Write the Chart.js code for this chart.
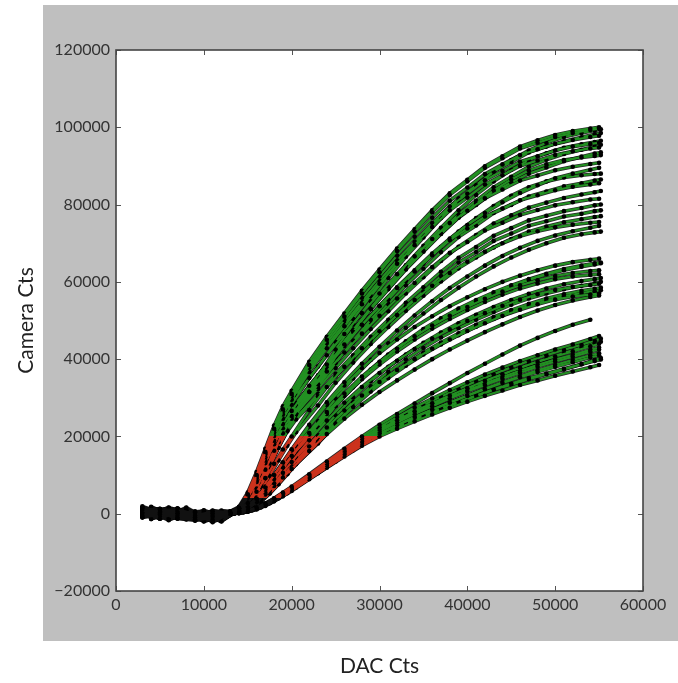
<!DOCTYPE html>
<html>
<head>
<meta charset="utf-8">
<script src="https://cdn.jsdelivr.net/npm/chart.js@4.4.1/dist/chart.umd.min.js"></script>
<style>
  html, body { margin: 0; padding: 0; background: #fff; }
  #wrap { width: 678px; height: 683px; position: relative; }
</style>
</head>
<body>
<div id="wrap"><canvas id="chart"></canvas></div>
<script>
/* Camera response vs DAC sweep, one trace per pixel/channel.
 * Colour along each trace: black in the noise floor, red up to 20000 cts
 * (the region used for the linear fit), green above that. */

// two DAC sweeps (the second one is offset, so markers don't line up)
const dacGridA = [3000, 5000, 7000, 9000, 11000, 13000, 14000, 15000, 16000, 17000, 18000, 19000, 20000,
  22000, 24000, 26000, 28000, 30000, 32000, 34000, 36000, 38000, 40000, 42000, 44000, 46000, 48000,
  50000, 52000, 54000, 55000];
const dacGridB = [4000, 6000, 8000, 10000, 12000, 13500, 14500, 15500, 16500, 17500, 18500, 19500, 20500,
  23000, 25000, 27000, 29000, 31000, 33000, 35000, 37000, 39000, 41000, 43000, 45000, 47000, 49000,
  51000, 53000, 54500, 55200];

// ---- upper family (ends 73k..100k) ----
const camA01 = [1400, 300, -500, -900, -600, 500, 1500, 5000, 10000, 16000, 22000, 27000, 31000, 38500, 45000, 51000, 57000, 62500, 68000, 73000, 78000, 82500, 86000, 89500, 92000, 94500, 96000, 97500, 98500, 99300, 99600];
const camA02 = [600, -900, 900, -1700, 200, 300, 1000, 3500, 7500, 13000, 18500, 23500, 28000, 35500, 42500, 49000, 55000, 61000, 66500, 71500, 76500, 81000, 85000, 88500, 91500, 94000, 96000, 97500, 98500, 99200, 99500];
const camA03 = [-500, 1100, 100, -600, -1600, 500, 1500, 4900, 9800, 15700, 21600, 26500, 30400, 37800, 44200, 50100, 55900, 61400, 66800, 71700, 76600, 81000, 84400, 87900, 90400, 92800, 94300, 95700, 96700, 97500, 97800];
const camA04 = [1800, -300, -1100, 400, -900, 200, 800, 3000, 7000, 12000, 17000, 21500, 25800, 33500, 40500, 47000, 53000, 58800, 64300, 69300, 74000, 78500, 82500, 86000, 89000, 91500, 93300, 94700, 95600, 96200, 96500];
const camA05 = [-900, 600, 1300, -1500, 100, 500, 1400, 4700, 9500, 15300, 21000, 25700, 29500, 36700, 42800, 48500, 54200, 59500, 64700, 69500, 74200, 78500, 81800, 85200, 87600, 90000, 91400, 92800, 93800, 94500, 94800];
const camA06 = [300, 1500, -600, -400, -2000, 300, 1100, 3800, 8200, 13500, 19000, 23800, 27800, 35000, 41500, 47500, 53000, 58300, 63300, 68000, 72500, 76700, 80300, 83700, 86500, 88800, 90400, 91500, 92200, 92600, 92800];
const camA07 = [1100, -1300, 400, -1200, 600, 500, 1400, 4500, 9100, 14600, 20100, 24600, 28200, 35100, 41000, 46500, 51900, 57000, 62000, 66600, 71100, 75200, 78400, 81600, 83900, 86200, 87500, 88900, 89800, 90500, 90800];
const camA08 = [-1400, 100, 800, -1900, -300, 200, 900, 3200, 7200, 12200, 17300, 21900, 25800, 32800, 39000, 44800, 50200, 55400, 60200, 64700, 69000, 73000, 76500, 79600, 82300, 84500, 86000, 87000, 87600, 87900, 88000];
const camA09 = [800, 900, -1000, 300, -1300, 400, 1300, 4300, 8600, 13800, 18900, 23200, 26600, 33100, 38600, 43800, 48900, 53700, 58400, 62700, 66900, 70800, 73800, 76900, 79000, 81100, 82400, 83700, 84600, 85200, 85500];
const camA10 = [-300, -500, 1600, -900, -1800, 400, 1300, 4200, 8400, 13400, 18500, 22600, 26000, 32300, 37700, 42800, 47800, 52400, 57000, 61200, 65400, 69100, 72100, 75100, 77200, 79200, 80500, 81700, 82600, 83200, 83500];
const camA11 = [1600, 300, -200, -1600, 400, 400, 1200, 4100, 8200, 13100, 18000, 22100, 25300, 31500, 36800, 41700, 46600, 51200, 55700, 59700, 63800, 67500, 70300, 73300, 75300, 77300, 78600, 79800, 80600, 81300, 81500];
const camA12 = [100, -1100, 600, -300, -1200, 400, 1200, 3900, 7900, 12600, 17300, 21300, 24400, 30400, 35500, 40200, 44900, 49300, 53600, 57500, 61500, 65000, 67700, 70600, 72500, 74500, 75700, 76900, 77600, 78300, 78500];
const camA13 = [900, 1300, -900, -1300, -200, 300, 900, 2800, 5700, 9200, 12900, 16600, 20000, 26800, 32800, 38000, 42800, 47200, 51400, 55300, 59000, 62300, 65200, 67800, 70000, 71800, 73100, 74100, 74800, 75300, 75500];
const camA14 = [-1200, -200, 300, 700, -1700, 200, 700, 2200, 4600, 7600, 10900, 14200, 17500, 24000, 29800, 35000, 39800, 44100, 48100, 51800, 55300, 58500, 61400, 64000, 66300, 68300, 70000, 71400, 72300, 72800, 73000];
const camA15 = [-700, 1300, 300, -1800, 800, 500, 1500, 4900, 9900, 15900, 21800, 26700, 30600, 38100, 44500, 50400, 56300, 61900, 67300, 72200, 77100, 81600, 85000, 88600, 91000, 93500, 95000, 96400, 97400, 98200, 98500];
const camA16 = [1500, -600, -1500, 600, -1100, 300, 1100, 3700, 8000, 13500, 19000, 23800, 27800, 35200, 41700, 47600, 53300, 58700, 63900, 68700, 73200, 77500, 81000, 84500, 87200, 89800, 91600, 93100, 94200, 95000, 95500];
const camA17 = [-1300, 400, 1200, -700, -1900, 400, 1300, 4300, 8700, 13900, 19100, 23400, 26900, 33500, 39100, 44300, 49500, 54300, 59100, 63400, 67700, 71600, 74600, 77800, 79900, 82100, 83400, 84700, 85500, 86200, 86500];
const camA18 = [400, -1700, 700, -1300, 100, 300, 900, 2900, 6000, 9800, 13800, 17600, 21100, 28000, 33900, 39100, 43900, 48300, 52500, 56400, 60100, 63500, 66300, 68900, 71100, 73000, 74300, 75400, 76200, 76800, 77000];
const camA19 = [200, -800, 500, -1100, -900, 600, 1800, 5500, 10800, 16800, 22800, 27800, 31800, 39300, 45800, 51800, 57700, 63200, 68600, 73600, 78500, 82900, 86400, 89900, 92500, 95000, 96600, 98000, 99000, 99700, 100000];
const camA20 = [-400, 700, -300, -1400, 500, 400, 1300, 4600, 9200, 14800, 20400, 25000, 28700, 35800, 41800, 47400, 52900, 58100, 63200, 67800, 72400, 76600, 79900, 83200, 85700, 88000, 89600, 91200, 92400, 93200, 93500];
const camA21 = [1200, -200, -900, 200, -1500, 200, 800, 2800, 6500, 11400, 16300, 20800, 24600, 31600, 37700, 43400, 48800, 53800, 58600, 63000, 67300, 71200, 74700, 77800, 80600, 83000, 85000, 86800, 88000, 89000, 89500];
const camA22 = [-1000, 500, 900, -600, -1000, 400, 1200, 4000, 8000, 12900, 17700, 21700, 24900, 31000, 36200, 41000, 45800, 50200, 54600, 58600, 62600, 66200, 69000, 71900, 73900, 75900, 77100, 78300, 79100, 79800, 80000];
const camA23 = [700, 100, -1200, -200, 300, 200, 600, 1800, 3900, 6800, 10000, 13300, 16700, 23000, 28800, 34000, 38800, 43200, 47400, 51300, 55000, 58400, 61400, 64200, 66700, 68800, 70600, 72000, 73100, 74000, 74500];
const camA24 = [-200, 1200, -700, -500, -1200, 500, 1400, 4800, 9600, 15500, 21200, 26000, 29900, 37200, 43400, 49200, 54900, 60300, 65600, 70400, 75200, 79500, 82800, 86300, 88700, 91100, 92500, 94000, 95000, 95700, 96000];

// ---- middle family (ends 56k..66k) ----
const camM01 = [500, -600, 1200, -1800, -700, 300, 700, 2000, 4200, 7000, 10000, 13200, 16400, 22600, 28200, 33200, 37700, 41600, 45100, 48300, 51100, 53700, 56000, 58100, 60000, 61600, 63000, 64200, 65100, 65700, 66000];
const camM02 = [1500, 700, -400, -200, -1500, 300, 700, 2000, 4100, 6900, 9900, 13000, 16200, 22300, 27800, 32700, 37100, 41000, 44400, 47500, 50300, 52800, 55000, 57000, 58900, 60500, 61900, 63000, 63900, 64500, 64800];
const camM03 = [-700, 200, -1300, -900, 800, 200, 600, 1800, 3700, 6200, 9000, 12000, 15000, 20900, 26300, 31100, 35500, 39300, 42700, 45900, 48700, 51200, 53500, 55600, 57500, 59100, 60400, 61500, 62300, 62800, 63000];
const camM04 = [1200, -900, 300, -2000, -600, 200, 600, 1700, 3600, 6000, 8700, 11600, 14500, 20300, 25500, 30100, 34300, 38000, 41200, 44200, 46900, 49300, 51500, 53500, 55300, 56900, 58300, 59400, 60200, 60700, 61000];
const camM05 = [-200, 1200, 900, 100, -1900, 200, 500, 1500, 3200, 5400, 7900, 10600, 13400, 19000, 24100, 28700, 32800, 36400, 39600, 42600, 45300, 47700, 49900, 51900, 53800, 55400, 56800, 57900, 58700, 59200, 59500];
const camM06 = [600, -1500, -300, -1100, 0, 200, 500, 1400, 3100, 5200, 7600, 10200, 12800, 18200, 23200, 27600, 31600, 35100, 38300, 41200, 43800, 46200, 48400, 50400, 52200, 53800, 55200, 56300, 57100, 57600, 57800];
const camM07 = [1900, 400, 0, -700, -1000, 200, 500, 1300, 3000, 5000, 7200, 9400, 11600, 16200, 20600, 24600, 28200, 31500, 34500, 37300, 40000, 42500, 44800, 47000, 49000, 50900, 52600, 54000, 55200, 56100, 56500];
const camM08 = [-300, 900, -1000, 400, -1700, 300, 700, 2000, 4200, 7000, 10000, 13100, 16300, 22400, 27900, 32900, 37300, 41200, 44600, 47800, 50600, 53100, 55300, 57300, 59100, 60700, 62100, 63300, 64200, 64800, 65000];
const camM09 = [1100, -400, 200, -1900, -800, 200, 500, 1400, 3200, 5300, 7700, 10300, 13000, 18500, 23500, 28000, 32000, 35600, 38800, 41700, 44300, 46700, 48900, 50900, 52700, 54300, 55700, 56800, 57700, 58200, 58500];
const camM10 = [300, -1300, 600, -800, -300, 200, 600, 1700, 3600, 6100, 8800, 11700, 14700, 20500, 25800, 30500, 34800, 38600, 42000, 45100, 47900, 50400, 52700, 54800, 56700, 58300, 59600, 60700, 61400, 61800, 62000];
const camM11 = [-800, 300, -500, 200, -1600, 200, 500, 1500, 3300, 5500, 8000, 10800, 13600, 19100, 24300, 28900, 33000, 36700, 39900, 42900, 45600, 48000, 50200, 52200, 54100, 55700, 57000, 58100, 59000, 59600, 60000];
const camM12 = [900, -700, 1000, -1200, -200, 200, 500, 1300, 3000, 5100, 7400, 9800, 12300, 17400, 22300, 26700, 30600, 34100, 37200, 40000, 42700, 45100, 47300, 49300, 51200, 52800, 54200, 55400, 56200, 56700, 57000];

// ---- lower family (ends 38k..50k) ----
const camC00 = [-600, 300, 1000, -1600, -1300, 0, 300, 900, 1600, 2700, 4000, 5500, 7000, 10200, 13500, 16800, 20000, 23000, 25800, 28500, 31200, 33800, 36400, 38800, 41200, 43500, 45500, 47300, 48900, 50200, null];
const camC01 = [900, -400, -700, 600, -2200, 0, 300, 800, 1500, 2500, 3800, 5200, 6700, 9800, 13000, 16300, 19500, 22400, 25000, 27500, 29800, 32000, 34000, 36000, 37800, 39500, 41000, 42500, 43800, 45200, 46000];
const camC02 = [200, 1600, 400, -1300, -400, 100, 500, 1100, 1900, 3000, 4300, 5800, 7300, 11200, 14400, 17600, 20600, 23300, 25800, 28100, 30300, 32300, 34300, 36100, 37900, 39500, 41000, 42400, 43700, 44800, 45300];
const camC03 = [-1000, -300, -200, -400, -1600, 0, 300, 800, 1500, 2600, 3900, 5300, 6800, 9900, 13000, 16100, 19100, 21800, 24200, 26500, 28600, 30600, 32500, 34400, 36100, 37800, 39300, 40700, 42000, 43300, 44000];
const camC04 = [1300, 900, -1200, -1700, 700, 0, 200, 600, 1300, 2300, 3500, 4900, 6400, 9500, 12600, 15700, 18700, 21300, 23600, 25800, 27800, 29800, 31600, 33300, 34900, 36500, 38000, 39400, 40600, 41900, 42500];
const camC05 = [300, -1200, 1400, -1000, -900, 0, 200, 700, 1400, 2400, 3600, 5000, 6400, 9400, 12400, 15400, 18300, 20800, 23000, 25100, 27000, 28800, 30500, 32200, 33800, 35300, 36700, 38000, 39200, 40400, 41000];
const camC06 = [-400, 600, -900, 300, -1400, 100, 400, 900, 1700, 2800, 4000, 5400, 6900, 10600, 13600, 16500, 19200, 21500, 23500, 25500, 27300, 29000, 30600, 32200, 33700, 35100, 36300, 37500, 38700, 39500, 39900];
const camC07 = [1000, 0, 600, -1400, -600, 0, 100, 500, 1100, 2000, 3200, 4500, 5900, 8900, 11900, 14800, 17600, 20000, 22000, 23900, 25700, 27400, 29000, 30500, 31900, 33300, 34500, 35700, 36800, 37900, 38500];
const camC08 = [600, -900, 1300, -400, -1800, 0, 200, 700, 1300, 2300, 3500, 4900, 6400, 9500, 12600, 15700, 18800, 21500, 23900, 26100, 28100, 30000, 31900, 33700, 35400, 37000, 38500, 39900, 41100, 42400, 43000];
const camC09 = [-900, 1000, -300, -1100, 300, 100, 400, 900, 1700, 2700, 4000, 5300, 6800, 10500, 13500, 16400, 19100, 21400, 23400, 25200, 27000, 28800, 30400, 32000, 33400, 34800, 36100, 37300, 38700, 39800, 40300];
const camC10 = [500, -200, -1000, 900, -700, 100, 400, 1000, 1800, 2900, 4200, 5600, 7100, 10900, 14100, 17200, 20100, 22700, 25000, 27300, 29400, 31400, 33300, 35200, 36900, 38600, 40100, 41600, 43000, 44100, 44500];
const camC11 = [-300, 800, -400, -900, -1100, 0, 200, 600, 1300, 2300, 3500, 4900, 6300, 9300, 12300, 15200, 18100, 20600, 22800, 24900, 26900, 28800, 30600, 32400, 34000, 35600, 37100, 38500, 39800, 41000, 41500];

const tracesGridA = [camA01, camA03, camA05, camA07, camA09, camA11, camA13, camA19, camA21, camA23, camA24,
  camM01, camM03, camM05, camM07, camM10, camM12,
  camC00, camC01, camC03, camC04, camC05, camC07, camC08, camC11];
const tracesGridB = [camA02, camA04, camA06, camA08, camA10, camA12, camA14, camA15, camA16, camA17, camA18,
  camA20, camA22, camM02, camM04, camM06, camM08, camM09, camM11, camC02, camC06, camC09, camC10];

// axis ticks
const xTicks = [0, 10000, 20000, 30000, 40000, 50000, 60000];
const yTicks = [-20000, 0, 20000, 40000, 60000, 80000, 100000, 120000];

// colour bands (camera counts)
const FLOOR_CTS = 4000;
const LINEAR_CTS = 20000;
const BLACK = "#111111", RED = "#cc321c", GREEN = "#229022";

/* ------------------------------------------------------------------------ */
function bandColour(context) {
  const chart = context.chart;
  const area = chart.chartArea;
  if (!area) return GREEN;
  const y = chart.scales.y;
  const h = area.bottom - area.top;
  const f = (v) => Math.min(1, Math.max(0, (area.bottom - y.getPixelForValue(v)) / h));
  const g = chart.ctx.createLinearGradient(0, area.bottom, 0, area.top);
  g.addColorStop(0, BLACK);
  g.addColorStop(f(FLOOR_CTS), BLACK);
  g.addColorStop(f(FLOOR_CTS), RED);
  g.addColorStop(f(LINEAR_CTS), RED);
  g.addColorStop(f(LINEAR_CTS), GREEN);
  g.addColorStop(1, GREEN);
  return g;
}

const datasets = [];
function addTrace(grid, vals) {
  const pts = grid.map((x, i) => ({ x, y: vals[i] }));
  // dark outline underneath
  datasets.push({ data: pts, borderColor: "rgba(0,0,0,0.85)", borderWidth: 3.6,
    pointRadius: 0, order: 1, tension: 0 });
  // coloured stroke + dot markers on top
  datasets.push({ data: pts, borderColor: bandColour, borderWidth: 2.1,
    pointRadius: 2.3, pointBackgroundColor: "#000", pointBorderWidth: 0, order: 0, tension: 0 });
}
tracesGridA.forEach((v) => addTrace(dacGridA, v));
tracesGridB.forEach((v) => addTrace(dacGridB, v));

const minus = (v) => String(v).replace("-", "\u2212");

// grey figure background, white axes, frame and inward tick marks
const figureFrame = {
  id: "figureFrame",
  beforeDraw(chart) {
    const { ctx, chartArea: a, width, height } = chart;
    ctx.save();
    ctx.fillStyle = "#fff";
    ctx.fillRect(0, 0, width, height);
    ctx.fillStyle = "#bfbfbf";
    ctx.fillRect(43, 5, width - 43, 636);
    ctx.fillStyle = "#fff";
    ctx.fillRect(a.left, a.top, a.right - a.left, a.bottom - a.top);
    ctx.restore();
  },
  afterDraw(chart) {
    const { ctx, chartArea: a, scales } = chart;
    ctx.save();
    ctx.strokeStyle = "#555";
    ctx.lineWidth = 1;
    ctx.beginPath();
    scales.x.ticks.forEach((t, i) => {
      const px = Math.round(scales.x.getPixelForTick(i)) + 0.5;
      ctx.moveTo(px, a.bottom); ctx.lineTo(px, a.bottom - 5);
      ctx.moveTo(px, a.top); ctx.lineTo(px, a.top + 5);
    });
    scales.y.ticks.forEach((t, i) => {
      const py = Math.round(scales.y.getPixelForTick(i)) + 0.5;
      ctx.moveTo(a.left, py); ctx.lineTo(a.left + 5, py);
      ctx.moveTo(a.right, py); ctx.lineTo(a.right - 5, py);
    });
    ctx.stroke();
    ctx.strokeStyle = "#444";
    ctx.lineWidth = 1.6;
    ctx.strokeRect(a.left, a.top, a.right - a.left, a.bottom - a.top);
    ctx.restore();
  },
};

const tickFont = { family: "Lato", size: 16 };
const titleFont = { family: "Lato", size: 21 };

new Chart(document.getElementById("chart"), {
  type: "line",
  data: { datasets },
  plugins: [figureFrame],
  options: {
    responsive: true, maintainAspectRatio: false, animation: false,
    layout: { padding: { top: 50, right: 35, left: 0, bottom: 0 } },
    plugins: { legend: { display: false }, tooltip: { enabled: false } },
    scales: {
      x: {
        type: "linear", min: xTicks[0], max: xTicks[xTicks.length - 1],
        afterBuildTicks: (s) => { s.ticks = xTicks.map((v) => ({ value: v })); },
        afterFit: (s) => { s.height = 92; },
        grid: { display: false, drawTicks: false },
        border: { display: false },
        ticks: { color: "#333", font: tickFont, padding: 4, maxRotation: 0, autoSkip: false, callback: minus },
        title: { display: true, text: "DAC Cts", color: "#222", font: titleFont, padding: { bottom: 4 } },
      },
      y: {
        type: "linear", min: yTicks[0], max: yTicks[yTicks.length - 1],
        afterBuildTicks: (s) => { s.ticks = yTicks.map((v) => ({ value: v })); },
        afterFit: (s) => { s.width = 116; },
        grid: { display: false, drawTicks: false },
        border: { display: false },
        ticks: { color: "#333", font: tickFont, padding: 6, autoSkip: false, callback: minus },
        title: { display: true, text: "Camera Cts", color: "#222", font: titleFont, padding: { top: 14 } },
      },
    },
  },
});
</script>
</body>
</html>
